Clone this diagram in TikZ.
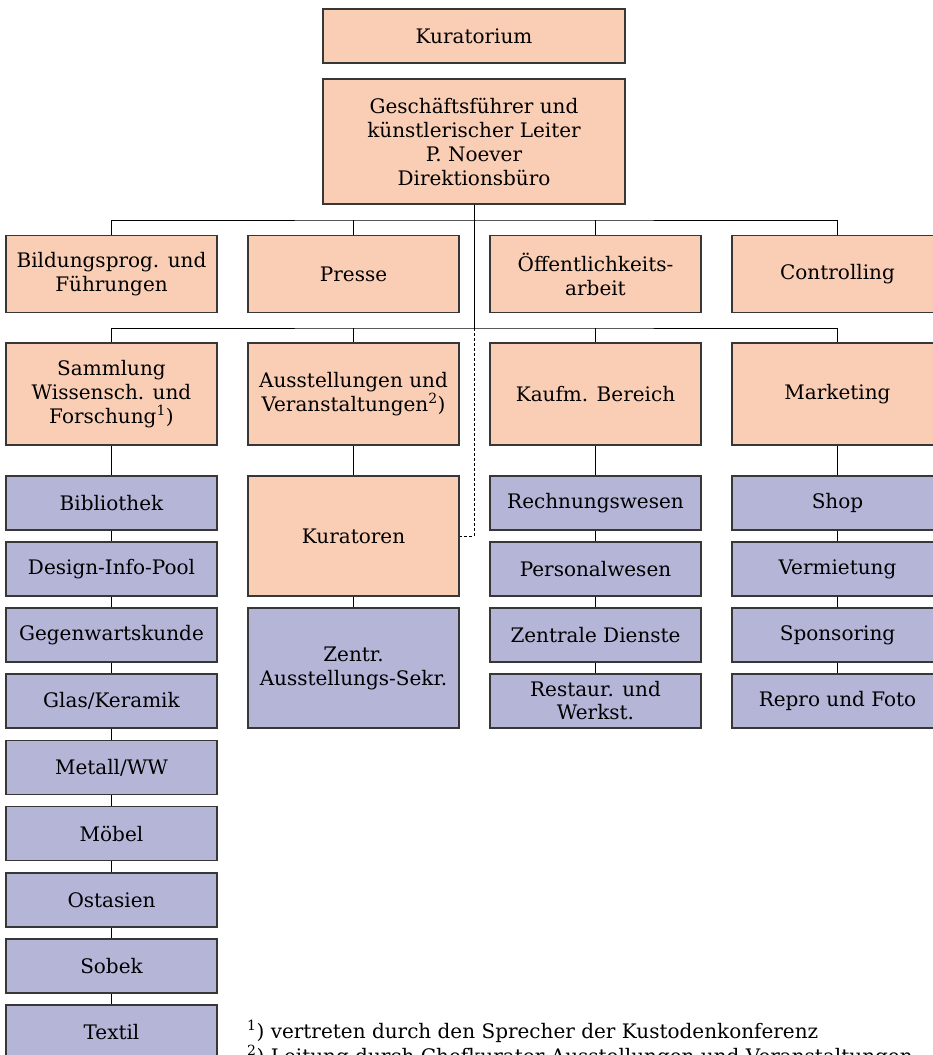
\documentclass[tikz,border=0pt]{standalone}
\usepackage{fontspec}
\setmainfont{DejaVu Serif}
\definecolor{peach}{RGB}{250,206,181}
\definecolor{lav}{RGB}{181,181,216}
\definecolor{edgegray}{RGB}{55,55,55}
\begin{document}
\begin{tikzpicture}[x=1pt,y=-1pt,
  box/.style={draw=edgegray,line width=1.3pt,minimum width=211pt,inner sep=0pt,align=center,font=\fontsize{20}{24}\selectfont},
  pbox/.style={box,fill=peach},
  lbox/.style={box,fill=lav},
  conn/.style={line width=0.9pt,draw=black},
  dconn/.style={conn,dash pattern=on 3pt off 2pt},
  note/.style={anchor=base west,inner sep=0pt,font=\fontsize{20}{24}\selectfont}]
\useasboundingbox (0,0) rectangle (932,1055);
% top
\node[pbox,minimum width=302pt,minimum height=54pt] (kur) at (474,36) {Kuratorium};
\node[pbox,minimum width=302pt,minimum height=125pt] (gf) at (474,141.5) {Geschäftsführer und\\künstlerischer Leiter\\P. Noever\\Direktionsbüro};
% row 1
\node[pbox,minimum height=77pt] (b1) at (111.5,274) {Bildungsprog. und\\Führungen};
\node[pbox,minimum height=77pt] (b2) at (353.5,274) {Presse};
\node[pbox,minimum height=77pt] (b3) at (595.5,274) {Öffentlichkeits-\\arbeit};
\node[pbox,minimum height=77pt] (b4) at (837.5,274) {Controlling};
% row 2
\node[pbox,minimum height=102pt] (s1) at (111.5,394) {Sammlung\\Wissensch. und\\Forschung\textsuperscript{1})};
\node[pbox,minimum height=102pt] (s2) at (353.5,394) {Ausstellungen und\\Veranstaltungen\textsuperscript{2})};
\node[pbox,minimum height=102pt] (s3) at (595.5,394) {Kaufm. Bereich};
\node[pbox,minimum height=102pt] (s4) at (837.5,394) {Marketing};
% column 1
\node[lbox,minimum height=54pt] (c1a) at (111.5,503) {Bibliothek};
\node[lbox,minimum height=54pt] (c1b) at (111.5,569) {Design-Info-Pool};
\node[lbox,minimum height=54pt] (c1c) at (111.5,635) {Gegenwartskunde};
\node[lbox,minimum height=54pt] (c1d) at (111.5,701) {Glas/Keramik};
\node[lbox,minimum height=54pt] (c1e) at (111.5,767.5) {Metall/WW};
\node[lbox,minimum height=54pt] (c1f) at (111.5,833.5) {Möbel};
\node[lbox,minimum height=54pt] (c1g) at (111.5,900) {Ostasien};
\node[lbox,minimum height=54pt] (c1h) at (111.5,966) {Sobek};
\node[lbox,minimum height=54pt] (c1i) at (111.5,1032) {Textil};
% column 2
\node[pbox,minimum height=120pt] (c2a) at (353.5,536) {Kuratoren};
\node[lbox,minimum height=120pt] (c2b) at (353.5,668) {Zentr.\\Ausstellungs-Sekr.};
% column 3
\node[lbox,minimum height=54pt] (c3a) at (595.5,503) {Rechnungswesen};
\node[lbox,minimum height=54pt] (c3b) at (595.5,569) {Personalwesen};
\node[lbox,minimum height=54pt] (c3c) at (595.5,635) {Zentrale Dienste};
\node[lbox,minimum height=54pt,font=\fontsize{20}{23}\selectfont] (c3d) at (595.5,701) {Restaur. und\\Werkst.};
% column 4
\node[lbox,minimum height=54pt] (c4a) at (837.5,503) {Shop};
\node[lbox,minimum height=54pt] (c4b) at (837.5,569) {Vermietung};
\node[lbox,minimum height=54pt] (c4c) at (837.5,635) {Sponsoring};
\node[lbox,minimum height=54pt] (c4d) at (837.5,701) {Repro und Foto};
% buses
\coordinate (j1) at (474,220);
\coordinate (j2) at (474,328);
\draw[conn] (gf.south) -- (j2);
\draw[conn] (b1.north) |- (j1) -| (b4.north);
\draw[conn] (b2.north) -- (b2.north |- j1);
\draw[conn] (b3.north) -- (b3.north |- j1);
\draw[conn] (s1.north) |- (j2) -| (s4.north);
\draw[conn] (s2.north) -- (s2.north |- j2);
\draw[conn] (s3.north) -- (s3.north |- j2);
\draw[dconn] (j2) |- (c2a.east);
% columns
\draw[conn] (s1.south) -- (c1a.north);
\draw[conn] (c1a.south) -- (c1b.north);
\draw[conn] (c1b.south) -- (c1c.north);
\draw[conn] (c1c.south) -- (c1d.north);
\draw[conn] (c1d.south) -- (c1e.north);
\draw[conn] (c1e.south) -- (c1f.north);
\draw[conn] (c1f.south) -- (c1g.north);
\draw[conn] (c1g.south) -- (c1h.north);
\draw[conn] (c1h.south) -- (c1i.north);
\draw[conn] (s2.south) -- (c2a.north);
\draw[conn] (c2a.south) -- (c2b.north);
\draw[conn] (s3.south) -- (c3a.north);
\draw[conn] (c3a.south) -- (c3b.north);
\draw[conn] (c3b.south) -- (c3c.north);
\draw[conn] (c3c.south) -- (c3d.north);
\draw[conn] (s4.south) -- (c4a.north);
\draw[conn] (c4a.south) -- (c4b.north);
\draw[conn] (c4b.south) -- (c4c.north);
\draw[conn] (c4c.south) -- (c4d.north);
% footnotes
\node[note] (fn1) at (247,1038) {\textsuperscript{1}) vertreten durch den Sprecher der Kustodenkonferenz};
\node[note] (fn2) at (247,1063) {\textsuperscript{2}) Leitung durch Chefkurator Ausstellungen und Veranstaltungen};
\end{tikzpicture}
\end{document}
